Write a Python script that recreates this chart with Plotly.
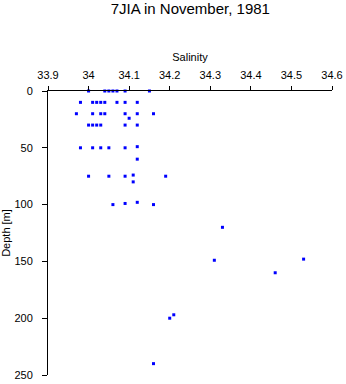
import plotly.graph_objects as go

salinity = [
    34.00, 34.04, 34.05, 34.06, 34.07, 34.09, 34.15,
    33.98, 34.01, 34.02, 34.03, 34.04, 34.07, 34.09, 34.12,
    33.97, 34.01, 34.03, 34.04, 34.09, 34.12, 34.16,
    34.10,
    34.00, 34.01, 34.02, 34.03, 34.09, 34.12,
    33.98, 34.01, 34.03, 34.05, 34.09, 34.12,
    34.12,
    34.00, 34.05, 34.09, 34.19, 34.11, 34.11,
    34.06, 34.16, 34.09, 34.12,
    34.33, 34.31, 34.53, 34.46, 34.20, 34.21, 34.16,
]
depth = [
    0, 0, 0, 0, 0, 0, 0,
    10, 10, 10, 10, 10, 10, 10, 10,
    20, 20, 20, 20, 20, 20, 20,
    24,
    30, 30, 30, 30, 30, 30,
    50, 50, 50, 50, 50, 49,
    60,
    75, 75, 75, 75, 74, 80,
    100, 100, 99, 98,
    120, 149, 148, 160, 200, 197, 240,
]

x_ticks = [33.9, 34.0, 34.1, 34.2, 34.3, 34.4, 34.5, 34.6]
x_labels = ["33.9", "34", "34.1", "34.2", "34.3", "34.4", "34.5", "34.6"]
y_ticks = [0, 50, 100, 150, 200, 250]

font_family = "Liberation Sans, Arial, Helvetica, sans-serif"

fig = go.Figure(
    go.Scatter(
        x=salinity, y=depth, mode="markers",
        marker=dict(symbol="square", size=3, color="#0000ff", line=dict(width=0)),
        cliponaxis=False,
        showlegend=False,
    )
)

fig.update_layout(
    width=346, height=384,
    paper_bgcolor="white", plot_bgcolor="white",
    margin=dict(l=48, r=14, t=91, b=9),
    font=dict(family=font_family, size=10, color="black"),
    title=dict(text="7JIA in November, 1981", x=0.55, xanchor="center",
               y=1, yanchor="top", pad=dict(t=3),
               font=dict(size=15, color="black")),
    xaxis=dict(
        side="top", range=[33.9, 34.6], tickvals=x_ticks, ticktext=x_labels,
        showline=True, linecolor="black", linewidth=1, ticks="outside",
        ticklen=4, tickcolor="black", showgrid=False, zeroline=False,
        automargin=False, ticklabelstandoff=3,
        title=dict(text="Salinity", standoff=4, font=dict(size=11)),
        tickfont=dict(size=11),
    ),
    yaxis=dict(
        range=[250, 0], tickvals=y_ticks,
        showline=True, linecolor="black", linewidth=1, ticks="outside",
        ticklen=5, tickcolor="black", showgrid=False, zeroline=False,
        automargin=False, ticklabelstandoff=7,
        title=dict(text="Depth [m]", standoff=6, font=dict(size=11)),
        tickfont=dict(size=11),
    ),
)

fig.write_html("out.html")
